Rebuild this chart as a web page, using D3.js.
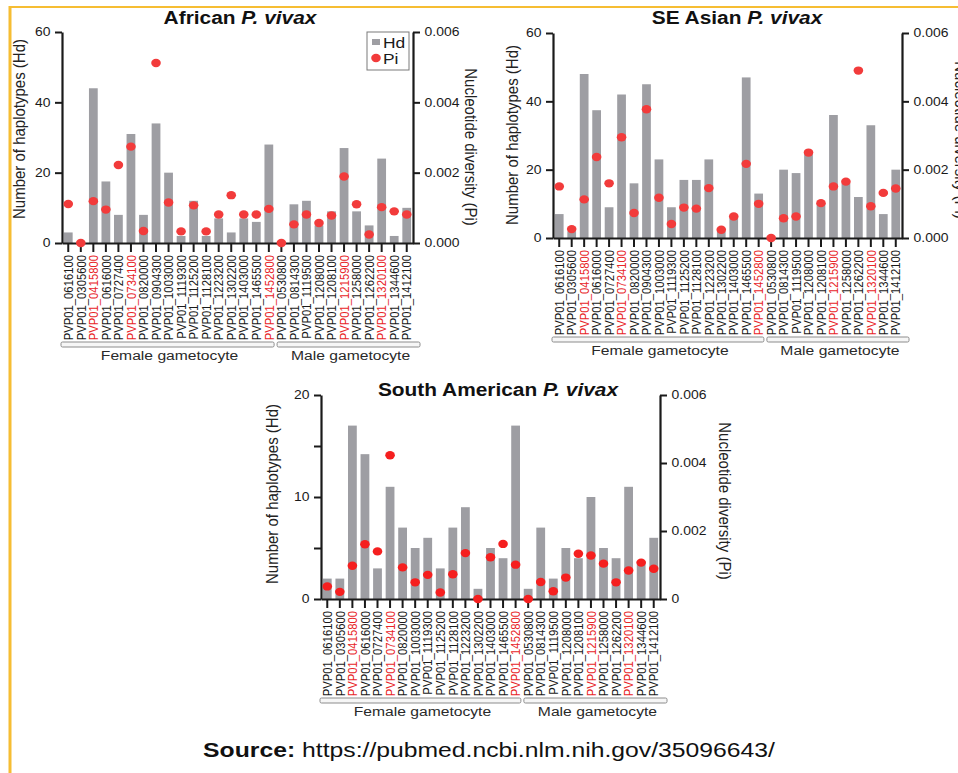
<!DOCTYPE html>
<html>
<head>
<meta charset="utf-8">
<script src="https://cdn.jsdelivr.net/npm/d3@7/dist/d3.min.js"></script>
<style>
    body { margin: 0; background: #fff; }
    svg { display: block; font-family: "Liberation Sans", Arial, Helvetica, sans-serif; }
</style>
</head>
<body>
<div id="chart"></div>
<script>
// x categories (gene ids)
var genesAfSe = ["PVP01_0616100", "PVP01_0305600", "PVP01_0415800", "PVP01_0616000", "PVP01_0727400",
    "PVP01_0734100", "PVP01_0820000", "PVP01_0904300", "PVP01_1003000", "PVP01_1119300", "PVP01_1125200",
    "PVP01_1128100", "PVP01_1223200", "PVP01_1302200", "PVP01_1403000", "PVP01_1465500", "PVP01_1452800",
    "PVP01_0530800", "PVP01_0814300", "PVP01_1119500", "PVP01_1208000", "PVP01_1208100", "PVP01_1215900",
    "PVP01_1258000", "PVP01_1262200", "PVP01_1320100", "PVP01_1344600", "PVP01_1412100"];
var genesSa = ["PVP01_0616100", "PVP01_0305600", "PVP01_0415800", "PVP01_0616000", "PVP01_0727400",
    "PVP01_0734100", "PVP01_0820000", "PVP01_1003000", "PVP01_1119300", "PVP01_1125200",
    "PVP01_1128100", "PVP01_1223200", "PVP01_1302200", "PVP01_1403000", "PVP01_1465500", "PVP01_1452800",
    "PVP01_0530800", "PVP01_0814300", "PVP01_1119500", "PVP01_1208000", "PVP01_1208100", "PVP01_1215900",
    "PVP01_1258000", "PVP01_1262200", "PVP01_1320100", "PVP01_1344600", "PVP01_1412100"];
var redGenes = ["PVP01_0415800", "PVP01_0734100", "PVP01_1452800", "PVP01_1215900", "PVP01_1320100"];
var groupNames = ["Female gametocyte", "Male gametocyte"];
var femaleCountAfSe = 17;
var femaleCountSa = 16;

// series values
var africanHd = [3, 0, 44, 17.5, 8, 31, 8, 34, 20, 2, 12, 2, 7, 3, 7, 6, 28,
    0, 11, 12, 5, 9, 27, 9, 5, 24, 2, 10];
var africanPi = [0.00111, 0, 0.00119, 0.00095, 0.00222, 0.00274, 0.00034, 0.00512, 0.00115, 0.00033,
    0.00107, 0.00033, 0.00081, 0.00136, 0.00081, 0.00081, 0.00097,
    0, 0.00053, 0.00081, 0.00057, 0.00078, 0.00189, 0.0011, 0.00024, 0.00102, 0.0009, 0.00081];
var seAsianHd = [7, 2, 48, 37.4, 9, 42, 16, 45, 23, 9, 17, 17, 23, 2, 6, 47, 13,
    0, 20, 19, 25, 10, 36, 16, 12, 33, 7, 20];
var seAsianPi = [0.00151, 0.00026, 0.00113, 0.00237, 0.0016, 0.00295, 0.00073, 0.00377, 0.00118, 0.00041,
    0.00089, 0.00086, 0.00146, 0.00024, 0.00063, 0.00217, 0.001,
    0, 0.00058, 0.00063, 0.0025, 0.00102, 0.00151, 0.00165, 0.0049, 0.00093, 0.00132, 0.00145];
var southAmHd = [2, 2, 17, 14.2, 3, 11, 7, 5, 6, 3, 7, 9, 1, 5, 4, 17,
    1, 7, 2, 5, 4, 10, 5, 4, 11, 3.7, 6];
var southAmPi = [0.00037, 0.00021, 0.00098, 0.00161, 0.0014, 0.00423, 0.00093, 0.00049, 0.00071, 0.00019,
    0.00073, 0.00135, 0, 0.00123, 0.00162, 0.00101,
    0, 0.0005, 0.00023, 0.00063, 0.00133, 0.00128, 0.00104, 0.00049, 0.00084, 0.00107, 0.00089];

// tick values
var hdTicksAfSe = [0, 20, 40, 60];
var hdTicksSa = [0, 10, 20];
var hdMinorSa = [5, 15];
var piTicks = [0, 0.002, 0.004, 0.006];

var SX = 1.16; // the reference is a bit stretched horizontally
var BAR = "#9e9ea3", DOT = "#f23b3b", RED = "#e8262a", INK = "#1a1a1a";

var svg = d3.select("#chart").append("svg")
    .attr("width", 958)
    .attr("height", 773);

function place(x, y, rot){
    return "translate(" + x + "," + y + ") scale(" + SX + ",1)" + (rot ? " rotate(" + rot + ")" : "");
}

function styleAxis(g){
    g.select(".domain").attr("stroke", INK).attr("stroke-width", 2.2);
    g.selectAll(".tick line").attr("stroke", INK).attr("stroke-width", 2);
    g.selectAll(".tick text").attr("fill", INK).style("font-size", "12px");
}

function drawPanel(p){
    var x = d3.scaleBand().domain(p.genes).range([p.left, p.right]).paddingInner(0.3).paddingOuter(0.15);
    var yHd = d3.scaleLinear().domain([0, p.hdMax]).range([p.y0, p.yTop]);
    var yPi = d3.scaleLinear().domain([0, 0.006]).range([p.y0, p.yTop]);
    var g = svg.append("g");

    // bars
    g.selectAll(".bar")
        .data(p.hd)
        .enter().append("rect")
        .attr("class", "bar")
        .attr("x", function(d, i){ return x(p.genes[i]); })
        .attr("width", x.bandwidth())
        .attr("y", function(d){ return yHd(d); })
        .attr("height", function(d){ return p.y0 - yHd(d); })
        .attr("fill", BAR);

    // left axis
    var left = g.append("g")
        .attr("transform", "translate(" + p.left + ",0)")
        .call(d3.axisLeft(yHd).tickValues(p.hdTicks).tickSize(7).tickSizeOuter(0).tickPadding(3));
    styleAxis(left);
    left.selectAll(".tick text").attr("transform", "scale(" + SX + ",1)");
    if (p.hdMinor){
        g.append("g")
            .attr("transform", "translate(" + p.left + ",0)")
            .call(d3.axisLeft(yHd).tickValues(p.hdMinor).tickSize(7).tickFormat(""))
            .call(function(a){ a.select(".domain").remove(); a.selectAll("line").attr("stroke", INK).attr("stroke-width", 2); });
    }

    // right axis
    var right = g.append("g")
        .attr("transform", "translate(" + p.right + ",0)")
        .call(d3.axisRight(yPi).tickValues(piTicks).tickSize(7).tickSizeOuter(0).tickPadding(3).tickFormat(p.piFormat));
    styleAxis(right);
    right.selectAll(".tick text").attr("transform", "scale(" + SX + ",1)");

    // x axis with rotated gene labels
    var bottom = g.append("g")
        .attr("transform", "translate(0," + p.y0 + ")")
        .call(d3.axisBottom(x).tickSize(9).tickSizeOuter(0));
    styleAxis(bottom);
    bottom.selectAll(".tick text")
        .attr("x", -12).attr("y", 0).attr("dy", "0.36em")
        .attr("text-anchor", "end")
        .attr("transform", "scale(" + SX + ",1) rotate(-90)")
        .style("font-size", "11.3px")
        .attr("fill", function(d){ return redGenes.indexOf(d) >= 0 ? RED : INK; });

    // group brackets
    var split = x(p.genes[p.femaleCount - 1]) + x.step() * 0.85;
    var spans = [[p.left - 1, split - 1], [split + 2, p.right + 7]];
    spans.forEach(function(s, i){
        g.append("rect")
            .attr("x", s[0]).attr("y", p.y0 + 99)
            .attr("width", s[1] - s[0]).attr("height", 5)
            .attr("rx", 1.5)
            .attr("fill", "#f6f6f6").attr("stroke", "#8c8c8c").attr("stroke-width", 1);
        g.append("text")
            .attr("transform", place((s[0] + s[1]) / 2 + 2, p.y0 + 117))
            .attr("text-anchor", "middle")
            .style("font-size", "13.5px")
            .attr("fill", "#2a2a2a")
            .text(groupNames[i]);
    });

    // nucleotide diversity dots
    g.selectAll(".dot")
        .data(p.pi)
        .enter().append("ellipse")
        .attr("class", "dot")
        .attr("cx", function(d, i){ return x(p.genes[i]) + x.bandwidth() / 2; })
        .attr("cy", function(d){ return yPi(d); })
        .attr("rx", 4.8).attr("ry", 4.2)
        .attr("fill", p.dot || DOT);

    // titles
    var t = g.append("text")
        .attr("transform", place(p.titleX, p.titleY))
        .attr("text-anchor", "middle")
        .style("font-size", "18px").style("font-weight", "bold")
        .attr("fill", "#111");
    t.append("tspan").text(p.title + " ");
    t.append("tspan").style("font-style", "italic").text("P. vivax");

    g.append("text")
        .attr("transform", place(p.ylabX, p.ylabY, -90))
        .attr("text-anchor", "middle").attr("dy", "0.35em")
        .style("font-size", "15px").attr("fill", "#222")
        .text("Number of haplotypes (Hd)");
    g.append("text")
        .attr("transform", place(p.rlabX, p.rlabY, 90))
        .attr("text-anchor", "middle").attr("dy", "0.35em")
        .style("font-size", "15px").attr("fill", "#222")
        .text("Nucleotide diversity (Pi)");
    return g;
}

var fmt3 = d3.format(".3f");

var african = drawPanel({
    title: "African", genes: genesAfSe, hd: africanHd, pi: africanPi, femaleCount: femaleCountAfSe,
    hdMax: 60, hdTicks: hdTicksAfSe, piFormat: fmt3,
    left: 62, right: 413, yTop: 32, y0: 243,
    titleX: 240, titleY: 24, ylabX: 19, ylabY: 129, rlabX: 471, rlabY: 147
});

drawPanel({
    title: "SE Asian", genes: genesAfSe, hd: seAsianHd, pi: seAsianPi, femaleCount: femaleCountAfSe,
    hdMax: 60, hdTicks: hdTicksAfSe, piFormat: fmt3,
    left: 553, right: 902, yTop: 33, y0: 238,
    titleX: 737, titleY: 24, ylabX: 512, ylabY: 135, rlabX: 961, rlabY: 140
});

drawPanel({
    title: "South American", genes: genesSa, hd: southAmHd, pi: southAmPi, femaleCount: femaleCountSa,
    hdMax: 20, hdTicks: hdTicksSa, hdMinor: hdMinorSa,
    piFormat: function(d){ return d === 0 ? "0" : fmt3(d); },
    left: 321, right: 660, yTop: 395, y0: 599, dot: "#f51f1f",
    titleX: 498, titleY: 396, ylabX: 272, ylabY: 494, rlabX: 725, rlabY: 501
});

// legend (African panel only)
var legend = african.append("g");
legend.append("rect")
    .attr("x", 367).attr("y", 32).attr("width", 42).attr("height", 38)
    .attr("fill", "#fff").attr("stroke", "#7a7a7a").attr("stroke-width", 1);
legend.append("rect")
    .attr("x", 372).attr("y", 39).attr("width", 8).attr("height", 6).attr("fill", BAR);
legend.append("ellipse")
    .attr("cx", 376).attr("cy", 58).attr("rx", 4.8).attr("ry", 4.2).attr("fill", DOT);
legend.append("text").attr("transform", place(383, 48)).style("font-size", "15px").attr("fill", INK).text("Hd");
legend.append("text").attr("transform", place(383, 64)).style("font-size", "15px").attr("fill", INK).text("Pi");

// frame
svg.append("line").attr("x1", 9).attr("x2", 958).attr("y1", 7).attr("y2", 7)
    .attr("stroke", "#f6bd33").attr("stroke-width", 2);
svg.append("line").attr("x1", 10).attr("x2", 10).attr("y1", 6).attr("y2", 773)
    .attr("stroke", "#f6bd33").attr("stroke-width", 3);

// source line, stretched to the reference width
var src = svg.append("text")
    .attr("text-anchor", "middle")
    .style("font-size", "20px")
    .attr("fill", "#111");
src.append("tspan").style("font-weight", "bold").text("Source:");
src.append("tspan").text(" https://pubmed.ncbi.nlm.nih.gov/35096643/");
var w = src.node().getComputedTextLength();
src.attr("transform", "translate(489,757) scale(" + (572 / w) + ",1)");
</script>
</body>
</html>
